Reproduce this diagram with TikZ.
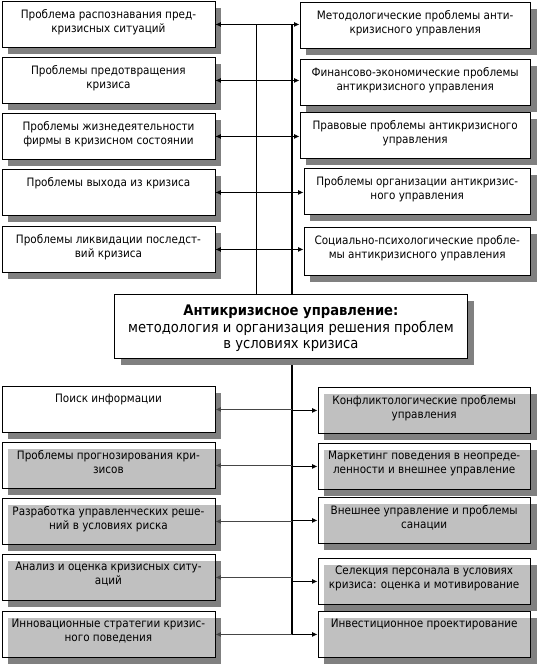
\documentclass[tikz,border=0pt]{standalone}
\usepackage{fontspec}
\setmainfont{DejaVu Sans Condensed}
\usetikzlibrary{shadows,arrows.meta}
\definecolor{shd}{RGB}{128,128,128}
\definecolor{lgr}{RGB}{192,192,192}
\definecolor{darkln}{RGB}{70,70,70}
\tikzset{
  box/.style={draw=black, line width=0.9pt, fill=white, anchor=north west,
    minimum height=46pt, inner sep=0pt,
    drop shadow={shadow xshift=6.5pt, shadow yshift=-6.5pt, fill=shd, opacity=1}},
  graybox/.style={box, path picture={\fill[lgr] ([shift={(6.5pt,-6.5pt)}]path picture bounding box.north west) rectangle (path picture bounding box.south east);}},
  lbox/.style={minimum width=213pt},
  rboxa/.style={minimum width=230.5pt},
  rboxb/.style={minimum width=226.5pt},
  rboxc/.style={minimum width=212.5pt},
  txt/.style={anchor=north, align=center, font=\fontsize{11.6}{13.8}\selectfont, inner sep=0pt, yshift=-8pt},
  ctxt/.style={anchor=north, align=center, font=\fontsize{14.6}{16.8}\selectfont, inner sep=0pt, yshift=-10.5pt},
  arr/.style={-{Latex[length=5.5pt,width=5pt]}, line width=0.8pt},
  darr/.style={{Latex[length=5.5pt,width=5pt]}-{Latex[length=5.5pt,width=5pt]}, line width=0.8pt},
  larr/.style={-{Latex[length=5.5pt,width=5pt]}, line width=1.4pt, draw=darkln},
  vline/.style={line width=0.9pt},
  trunk/.style={line width=1.2pt},
}
\begin{document}
\begin{tikzpicture}
\useasboundingbox (0,0) rectangle (541pt,-667pt);
\fill[white] (0,0) rectangle (541pt,-667pt);
\coordinate (VA) at (256pt,0);
\coordinate (VB) at (292pt,0);

% top left boxes
\node[box,lbox] (L1) at (1.5pt,-1pt) {};
\node[box,lbox] (L2) at (1.5pt,-57pt) {};
\node[box,lbox] (L3) at (1.5pt,-113pt) {};
\node[box,lbox] (L4) at (1.5pt,-169pt) {};
\node[box,lbox] (L5) at (1.5pt,-226pt) {};
% top right boxes
\node[box,rboxa] (R1) at (299.5pt,-2pt) {};
\node[box,rboxa] (R2) at (299.5pt,-59pt) {};
\node[box,rboxa] (R3) at (299.5pt,-112pt) {};
\node[box,rboxb] (R4) at (303.5pt,-168pt) {};
\node[box,rboxb,minimum height=48pt] (R5) at (303.5pt,-227pt) {};

% verticals
\draw[vline] (VA |- L1.east) -- (VA |- 0,-294pt) coordinate (VAend);
\draw[trunk] (VB |- L1.east) -- (VB |- 0,-634pt) coordinate (VBend);

% top arrows
\foreach \i in {1,...,5} {
  \draw[darr] (L\i.east) -- (L\i.east -| R\i.west);
}

% centre box
\node[box,minimum width=353pt,minimum height=64pt] (C) at (114pt,-294pt) {};
\node[ctxt] (Ct) at (C.north) {\textbf{Антикризисное управление:}\\методология и организация решения проблем\\в условиях кризиса};

% bottom boxes
\node[box,lbox] (L6) at (1.5pt,-386pt) {};
\node[graybox,lbox] (L7) at (1.5pt,-442pt) {};
\node[graybox,lbox] (L8) at (1.5pt,-498pt) {};
\node[graybox,lbox] (L9) at (1.5pt,-554pt) {};
\node[graybox,lbox] (L10) at (1.5pt,-611pt) {};
\node[graybox,rboxc] (R6) at (317.5pt,-387pt) {};
\node[graybox,rboxc] (R7) at (317.5pt,-443pt) {};
\node[graybox,rboxc] (R8) at (317.5pt,-497pt) {};
\node[graybox,rboxc] (R9) at (317.5pt,-558pt) {};
\node[graybox,rboxc] (R10) at (317.5pt,-611pt) {};

\foreach \i in {6,...,10} {
  \draw[larr] (VB |- L\i.east) -- (L\i.east);
  \draw[arr] (VB |- R\i.west) -- (R\i.west);
}

% texts
\node[txt] (L1t) at (L1.north) {Проблема распознавания пред-\\кризисных ситуаций};
\node[txt] (L2t) at (L2.north) {Проблемы предотвращения\\кризиса};
\node[txt] (L3t) at (L3.north) {Проблемы жизнедеятельности\\фирмы в кризисном состоянии};
\node[txt] (L4t) at (L4.north) {Проблемы выхода из кризиса};
\node[txt] (L5t) at (L5.north) {Проблемы ликвидации последст-\\вий кризиса};
\node[txt] (R1t) at (R1.north) {Методологические проблемы анти-\\кризисного управления};
\node[txt] (R2t) at (R2.north) {Финансово-экономические проблемы\\антикризисного управления};
\node[txt] (R3t) at (R3.north) {Правовые проблемы антикризисного\\управления};
\node[txt] (R4t) at (R4.north) {Проблемы организации антикризис-\\ного управления};
\node[txt] (R5t) at (R5.north) {Социально-психологические пробле-\\мы антикризисного управления};
\node[txt] (L6t) at (L6.north) {Поиск информации};
\node[txt] (L7t) at (L7.north) {Проблемы прогнозирования кри-\\зисов};
\node[txt] (L8t) at (L8.north) {Разработка управленческих реше-\\ний в условиях риска};
\node[txt] (L9t) at (L9.north) {Анализ и оценка кризисных ситу-\\аций};
\node[txt] (L10t) at (L10.north) {Инновационные стратегии кризис-\\ного поведения};
\node[txt] (R6t) at (R6.north) {Конфликтологические проблемы\\управления};
\node[txt] (R7t) at (R7.north) {Маркетинг поведения в неопреде-\\ленности и внешнее управление};
\node[txt] (R8t) at (R8.north) {Внешнее управление и проблемы\\санации};
\node[txt] (R9t) at (R9.north) {Селекция персонала в условиях\\кризиса: оценка и мотивирование};
\node[txt] (R10t) at (R10.north) {Инвестиционное проектирование};
\end{tikzpicture}
\end{document}
